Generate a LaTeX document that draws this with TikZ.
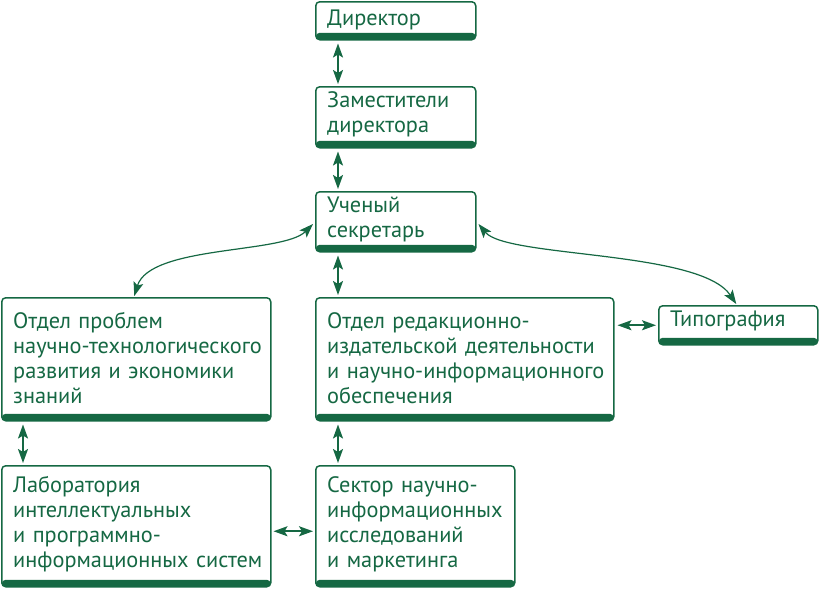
\documentclass[tikz,border=0pt]{standalone}
\usepackage{fontspec}
\setmainfont{PT Sans}
\usetikzlibrary{arrows.meta}
\definecolor{gr}{RGB}{21,104,67}
\tikzset{
  box/.style={draw=gr, line width=1.5pt, rounded corners=4pt, inner sep=0pt, anchor=north west,
    path picture={\fill[gr] ([yshift=-1pt]path picture bounding box.south west) rectangle ([yshift=7pt]path picture bounding box.south east);}},
  txt/.style={anchor=base west, inner sep=0pt, text=gr, text width=300pt, align=left,
    font=\fontsize{22.3}{25}\selectfont},
  tip/.tip={Stealth[length=14pt,width=10pt,inset=3pt]},
  link/.style={draw=gr, line width=1.8pt, {tip}-{tip}},
  curv/.style={draw=gr, line width=1.2pt, {tip}-{tip}},
}
\begin{document}
\begin{tikzpicture}[x=1pt,y=-1pt]
\useasboundingbox (0,0) rectangle (819,589);
% boxes
\node[box, minimum width=160pt, minimum height=38pt] (dir) at (315,1) {};
\node[box, minimum width=160pt, minimum height=61pt] (dep) at (315,86) {};
\node[box, minimum width=160pt, minimum height=60pt] (sec) at (315,191) {};
\node[box, minimum width=269pt, minimum height=123pt] (od1) at (1,297) {};
\node[box, minimum width=298pt, minimum height=123pt] (od2) at (315,297) {};
\node[box, minimum width=159pt, minimum height=39pt] (typ) at (658,305) {};
\node[box, minimum width=269pt, minimum height=121pt] (lab) at (1,465) {};
\node[box, minimum width=199pt, minimum height=121pt] (sec2) at (315,465) {};
% texts
\node[txt] (tdir) at ([shift={(12,24)}]dir.north west) {Директор};
\node[txt] (tdep) at ([shift={(12,21)}]dep.north west) {Заместители\\директора};
\node[txt] (tsec) at ([shift={(12,21)}]sec.north west) {Ученый\\секретарь};
\node[txt] (tod1) at ([shift={(12,31)}]od1.north west) {Отдел проблем\\научно-технологического\\развития и экономики\\знаний};
\node[txt] (tod2) at ([shift={(12,31)}]od2.north west) {Отдел редакционно-\\издательской деятельности\\и научно-информационного\\обеспечения};
\node[txt] (ttyp) at ([shift={(12,21)}]typ.north west) {Типография};
\node[txt] (tlab) at ([shift={(12,27)}]lab.north west) {Лаборатория\\интеллектуальных\\и программно-\\информационных систем};
\node[txt] (tsec2) at ([shift={(12,27)}]sec2.north west) {Сектор научно-\\информационных\\исследований\\и маркетинга};
% connectors
\draw[link, shorten <=3pt, shorten >=2pt] ([xshift=23pt]dir.south west) -- ([xshift=23pt]dep.north west);
\draw[link, shorten <=3pt, shorten >=2pt] ([xshift=23pt]dep.south west) -- ([xshift=23pt]sec.north west);
\draw[link, shorten <=3pt, shorten >=2pt] ([xshift=23pt]sec.south west) -- ([xshift=23pt]od2.north west);
\draw[link, shorten <=3pt, shorten >=2pt] ([xshift=23pt]od2.south west) -- ([xshift=23pt]sec2.north west);
\draw[link, shorten <=3pt, shorten >=2pt] ([xshift=22pt]od1.south west) -- ([xshift=22pt]lab.north west);
\draw[link, shorten <=3pt, shorten >=2pt] (od2.east |- typ.west) -- (typ.west);
\draw[link, shorten <=2pt, shorten >=2pt] ([yshift=-5pt]lab.east) -- ([yshift=-5pt]lab.east -| sec2.west);
\draw[curv]
  ([yshift=-33pt,xshift=-2pt]sec.north west) .. controls +(-30,30) and (150,245) .. ([xshift=-2pt,yshift=1pt]od1.north);
\draw[curv]
  ([yshift=-33pt,xshift=2pt]sec.north east) .. controls +(28,34) and (700,250) .. ([xshift=-2pt,yshift=1pt]typ.north);
\end{tikzpicture}
\end{document}
